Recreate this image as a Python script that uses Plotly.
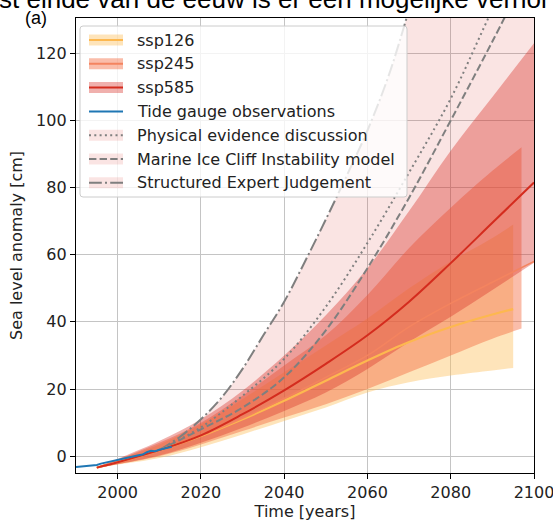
import plotly.graph_objects as go

# ---------------- data ----------------
years_126 = [1995, 2000, 2010, 2020, 2030, 2040, 2050, 2060, 2070, 2080, 2090, 2095]
med_126 = [-3.4, -1.8, 1.8, 6.0, 11.0, 16.5, 22.5, 28.5, 34.0, 38.5, 42.2, 43.8]
lo_126 = [-3.6, -2.5, -0.5, 2.7, 6.5, 10.5, 14.5, 19.0, 22.0, 24.0, 25.5, 26.3]
hi_126 = [-3.2, -1.0, 3.5, 9.5, 17.0, 25.0, 33.0, 41.0, 50.0, 58.0, 65.0, 69.0]

years_245 = [1995, 2000, 2010, 2020, 2030, 2040, 2050, 2060, 2070, 2080, 2090, 2100]
med_245 = [-3.4, -1.8, 1.8, 6.1, 11.3, 17.2, 23.5, 30.0, 38.5, 45.5, 51.8, 58.0]
band_years_245 = [1995, 2000, 2010, 2020, 2030, 2040, 2050, 2060, 2070, 2080, 2090, 2097]
lo_245 = [-3.6, -2.4, 0.0, 3.5, 7.5, 11.5, 15.5, 20.0, 25.0, 30.0, 35.0, 38.0]
hi_245 = [-3.2, -1.0, 4.0, 10.0, 18.0, 27.0, 36.0, 48.0, 62.0, 74.0, 85.0, 92.0]

years_585 = [1995, 2000, 2010, 2020, 2030, 2040, 2050, 2060, 2070, 2080, 2090, 2100]
med_585 = [-3.4, -1.8, 1.8, 6.2, 12.5, 19.6, 27.5, 36.0, 46.0, 57.5, 69.5, 81.5]
lo_585 = [-3.6, -2.4, 0.2, 4.0, 8.5, 13.5, 19.0, 26.0, 34.0, 41.5, 49.5, 57.6]
hi_585 = [-3.2, -0.8, 4.5, 11.0, 19.5, 30.0, 42.0, 56.0, 73.0, 91.0, 107.0, 123.0]

tg_years = list(range(1990, 2014))
tg_values = [-3.2, -3.1, -3.1, -3.0, -2.9, -2.6, -2.2, -1.9, -1.6, -1.3, -1.1, -0.9,
             -0.6, -0.3, 0.0, 0.3, 0.5, 1.2, 1.6, 1.5, 1.9, 2.2, 2.6, 2.8]

he_years = [2010, 2020, 2030, 2040, 2050, 2060, 2070, 2080, 2090, 2100]
phys_evidence = [1.8, 8.6, 18.0, 29.0, 44.5, 63.5, 84.5, 106.5, 133.0, 158.0]
mici_model = [1.8, 8.0, 14.5, 23.5, 37.5, 56.0, 77.0, 100.0, 123.5, 148.0]
sej_years = [2010, 2015, 2020, 2025, 2030, 2035, 2040, 2045, 2050, 2055, 2060, 2065, 2070, 2080, 2090, 2100]
sej_values = [1.8, 5.8, 11.0, 17.5, 26.0, 36.0, 46.0, 58.0, 70.5, 83.5, 97.0, 113.0, 133.0, 175.0, 220.0, 270.0]
he_band_lower = [1.8, 4.0, 6.2, 9.0, 12.5, 16.0, 19.6, 23.5, 27.5, 31.5, 36.0, 41.0, 46.0, 57.5, 69.5, 81.5]

x_ticks = [2000, 2020, 2040, 2060, 2080, 2100]
y_ticks = [0, 20, 40, 60, 80, 100, 120]

legend_labels = ["ssp126", "ssp245", "ssp585", "Tide gauge observations",
                 "Physical evidence discussion", "Marine Ice Cliff Instability model",
                 "Structured Expert Judgement"]

# ---------------- styles ----------------
C126_LINE, C126_BAND = "#fdb84f", "rgba(253,190,90,0.42)"
C245_LINE, C245_BAND = "#f4845f", "rgba(244,109,67,0.45)"
C585_LINE, C585_BAND = "#d42c1e", "rgba(215,48,39,0.38)"
CHE_BAND = "rgba(215,48,39,0.13)"
CBLUE = "#1f77b4"
CGRAY = "#7f7f7f"
FONT = "DejaVu Sans"
DOT = "2px,3.3px"
DASH = "7.4px,3.2px"
DASHDOT = "12.8px,3.2px,2px,3.2px"

W, H = 553, 521
L, R, T, B = 76, 19, 18, 48
PW, PH = W - L - R, H - T - B


def px(x):
    return (x - L) / PW


def py(y):
    return (H - B - y) / PH


fig = go.Figure()


def band(xs, lo, hi, color):
    fig.add_trace(go.Scatter(x=xs, y=lo, mode="lines", line=dict(width=0, color=color, shape="spline"),
                             showlegend=False, hoverinfo="skip"))
    fig.add_trace(go.Scatter(x=xs, y=hi, mode="lines", line=dict(width=0, color=color, shape="spline"),
                             fill="tonexty", fillcolor=color, showlegend=False, hoverinfo="skip"))


band(sej_years, he_band_lower, sej_values, CHE_BAND)
band(years_126, lo_126, hi_126, C126_BAND)
band(band_years_245, lo_245, hi_245, C245_BAND)
band(years_585, lo_585, hi_585, C585_BAND)

fig.add_trace(go.Scatter(x=he_years, y=phys_evidence, mode="lines",
                         line=dict(color=CGRAY, width=2, dash=DOT, shape="spline"), showlegend=False))
fig.add_trace(go.Scatter(x=he_years, y=mici_model, mode="lines",
                         line=dict(color=CGRAY, width=2, dash=DASH, shape="spline"), showlegend=False))
fig.add_trace(go.Scatter(x=sej_years, y=sej_values, mode="lines",
                         line=dict(color=CGRAY, width=2, dash=DASHDOT, shape="spline"), showlegend=False))

fig.add_trace(go.Scatter(x=years_126, y=med_126, mode="lines",
                         line=dict(color=C126_LINE, width=2.2, shape="spline"), showlegend=False))
fig.add_trace(go.Scatter(x=years_245, y=med_245, mode="lines",
                         line=dict(color=C245_LINE, width=1.5, shape="spline"), showlegend=False))
fig.add_trace(go.Scatter(x=years_585, y=med_585, mode="lines",
                         line=dict(color=C585_LINE, width=2, shape="spline"), showlegend=False))
fig.add_trace(go.Scatter(x=tg_years, y=tg_values, mode="lines",
                         line=dict(color=CBLUE, width=2), showlegend=False))

# ---------------- custom matplotlib-like legend ----------------
shapes = []
annotations = []
bx0, bx1, by0, by1 = 80, 407, 26, 197
r = 3
path = (f"M {px(bx0 + r)} {py(by0)} L {px(bx1 - r)} {py(by0)} Q {px(bx1)} {py(by0)} {px(bx1)} {py(by0 + r)} "
        f"L {px(bx1)} {py(by1 - r)} Q {px(bx1)} {py(by1)} {px(bx1 - r)} {py(by1)} "
        f"L {px(bx0 + r)} {py(by1)} Q {px(bx0)} {py(by1)} {px(bx0)} {py(by1 - r)} "
        f"L {px(bx0)} {py(by0 + r)} Q {px(bx0)} {py(by0)} {px(bx0 + r)} {py(by0)} Z")
shapes.append(dict(type="path", xref="paper", yref="paper", path=path,
                   fillcolor="rgba(255,255,255,0.8)", line=dict(color="#cccccc", width=1), layer="above"))

row0, dy = 40, 23.8
hx0, hx1 = 89, 123
handles = [
    (C126_BAND, C126_LINE, 2, "solid"),
    (C245_BAND, C245_LINE, 2, "solid"),
    (C585_BAND, C585_LINE, 2, "solid"),
    (None, CBLUE, 2, "solid"),
    (CHE_BAND, CGRAY, 2, DOT),
    (CHE_BAND, CGRAY, 2, DASH),
    (CHE_BAND, CGRAY, 2, DASHDOT),
]
for i, (lab, (bc, lc, lw, dash)) in enumerate(zip(legend_labels, handles)):
    yc = row0 + i * dy
    if bc is not None:
        shapes.append(dict(type="rect", xref="paper", yref="paper",
                           x0=px(hx0), x1=px(hx1), y0=py(yc - 5.5), y1=py(yc + 5.5),
                           fillcolor=bc, line=dict(width=0), layer="above"))
    shapes.append(dict(type="line", xref="paper", yref="paper",
                       x0=px(hx0), x1=px(hx1), y0=py(yc), y1=py(yc),
                       line=dict(color=lc, width=lw, dash=dash), layer="above"))
    annotations.append(dict(xref="paper", yref="paper", x=px(135), y=py(yc), text=lab,
                            showarrow=False, xanchor="left", yanchor="middle",
                            font=dict(family=FONT, size=16, color="#222222")))

# header texts
annotations.append(dict(xref="paper", yref="paper", x=px(-3), y=py(-1), xanchor="left", yanchor="middle",
                        text="st einde van de eeuw is er een mogelijke verhoi", showarrow=False,
                        font=dict(family="Liberation Sans", size=26, color="#000000")))
annotations.append(dict(xref="paper", yref="paper", x=px(36), y=py(18), xanchor="center", yanchor="middle",
                        text="(a)", showarrow=False,
                        font=dict(family="Liberation Sans", size=18, color="#000000")))

fig.update_layout(
    width=W, height=H,
    margin=dict(l=L, r=R, t=T, b=B, autoexpand=False),
    paper_bgcolor="white", plot_bgcolor="white",
    showlegend=False,
    shapes=shapes, annotations=annotations,
    font=dict(family=FONT, size=16, color="#222222"),
)
fig.update_xaxes(range=[1990, 2100], tickvals=x_ticks, ticktext=[str(v) for v in x_ticks],
                 showline=True, linecolor="black", linewidth=1.3, mirror=True,
                 ticks="outside", ticklen=5, tickwidth=1.2, tickcolor="black",
                 showgrid=True, gridcolor="#c4c4c4", gridwidth=1, zeroline=False,
                 ticklabeloverflow="allow",
                 title=dict(text="Time [years]", standoff=2, font=dict(size=16)),
                 tickfont=dict(size=16))
fig.update_yaxes(range=[-5, 130.5], tickvals=y_ticks, ticktext=[str(v) for v in y_ticks],
                 showline=True, linecolor="black", linewidth=1.3, mirror=True,
                 ticks="outside", ticklen=5, tickwidth=1.2, tickcolor="black",
                 showgrid=True, gridcolor="#c4c4c4", gridwidth=1, zeroline=False,
                 ticklabeloverflow="allow",
                 title=dict(text="Sea level anomaly [cm]", standoff=9, font=dict(size=16)),
                 tickfont=dict(size=16))

fig.write_html("out.html", config={"displayModeBar": False},
               post_script="document.body.style.margin='0px';document.body.style.overflow='hidden';")
